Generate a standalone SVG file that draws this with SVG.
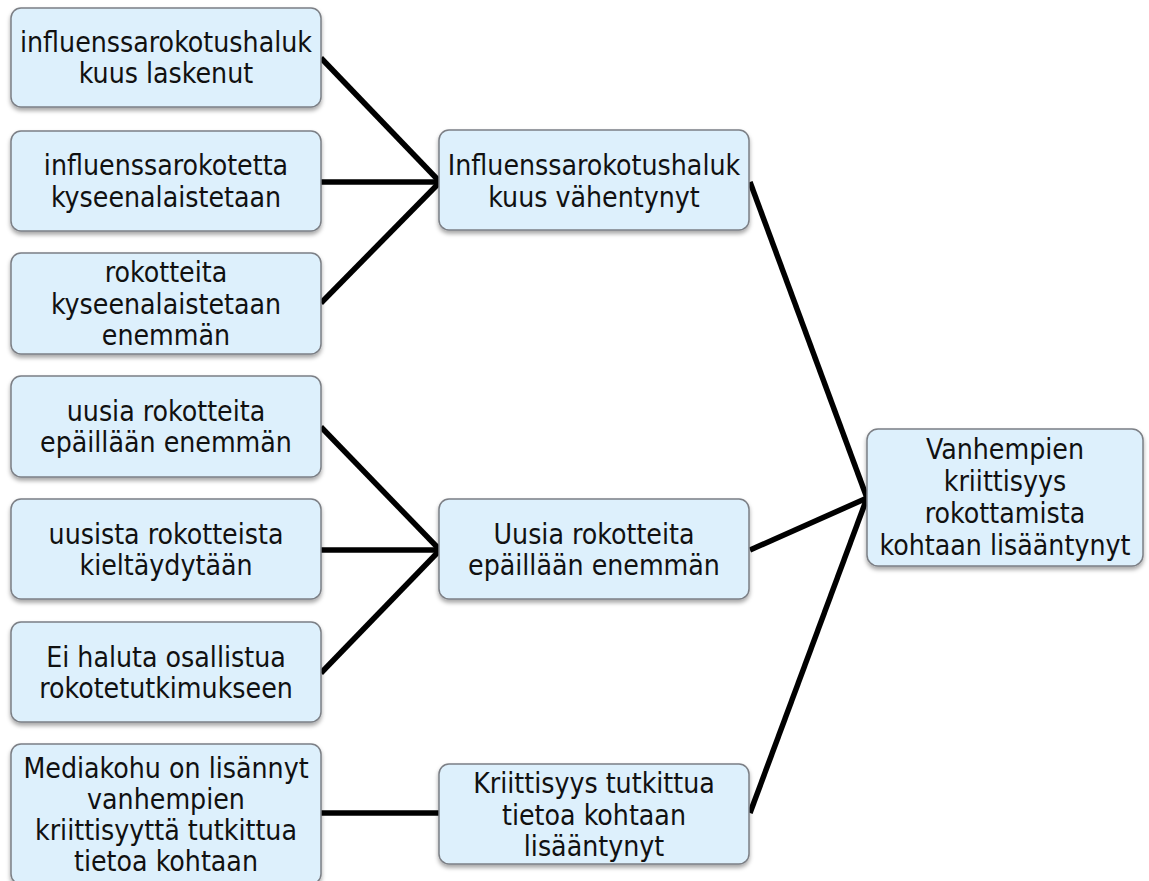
<svg xmlns="http://www.w3.org/2000/svg" width="1149" height="881" viewBox="0 0 1149 881">
<defs>
<filter id="sh" x="-10%" y="-10%" width="120%" height="130%">
<feDropShadow dx="0" dy="3" stdDeviation="2" flood-color="#000" flood-opacity="0.35"/>
</filter>
<style>
.box{fill:#ddf0fc;stroke:#7b7f85;stroke-width:1.5;filter:url(#sh)}
.t{font-family:"DejaVu Sans Condensed","DejaVu Sans",sans-serif;font-stretch:condensed;font-size:28.2px;fill:#111;text-anchor:middle}
.c{stroke:#000;stroke-width:5.5;fill:none;stroke-linecap:butt}
</style>
</defs>
<rect width="1149" height="881" fill="#fff"/>
<g id="connectors">
<line class="c" x1="321" y1="58" x2="440" y2="182"/>
<line class="c" x1="321" y1="182" x2="440" y2="182"/>
<line class="c" x1="321" y1="303" x2="440" y2="182"/>
<line class="c" x1="321" y1="427" x2="440" y2="550"/>
<line class="c" x1="321" y1="550" x2="440" y2="550"/>
<line class="c" x1="321" y1="673" x2="440" y2="550"/>
<line class="c" x1="321" y1="813" x2="440" y2="813"/>
<line class="c" x1="750" y1="182" x2="867" y2="498"/>
<line class="c" x1="750" y1="550" x2="867" y2="498"/>
<line class="c" x1="750" y1="813" x2="867" y2="498"/>
</g>
<g id="n1"><rect class="box" x="11" y="8" width="310" height="99" rx="10"/>
<text class="t" x="166" y="51.5">influenssarokotushaluk</text><text class="t" x="166" y="83">kuus laskenut</text></g>
<g id="n2"><rect class="box" x="11" y="131" width="310" height="100" rx="10"/>
<text class="t" x="166" y="175">influenssarokotetta</text><text class="t" x="166" y="206.5">kyseenalaistetaan</text></g>
<g id="n3"><rect class="box" x="11" y="253" width="310" height="101" rx="10"/>
<text class="t" x="166" y="282">rokotteita</text><text class="t" x="166" y="313.5">kyseenalaistetaan</text><text class="t" x="166" y="345">enemmän</text></g>
<g id="n4"><rect class="box" x="11" y="376" width="310" height="101" rx="10"/>
<text class="t" x="166" y="420.5">uusia rokotteita</text><text class="t" x="166" y="452">epäillään enemmän</text></g>
<g id="n5"><rect class="box" x="11" y="499" width="310" height="100" rx="10"/>
<text class="t" x="166" y="543.5">uusista rokotteista</text><text class="t" x="166" y="575">kieltäydytään</text></g>
<g id="n6"><rect class="box" x="11" y="622" width="310" height="100" rx="10"/>
<text class="t" x="166" y="666.5">Ei haluta osallistua</text><text class="t" x="166" y="698">rokotetutkimukseen</text></g>
<g id="n7"><rect class="box" x="11" y="744" width="310" height="140" rx="10"/>
<text class="t" x="166" y="777.5">Mediakohu on lisännyt</text><text class="t" x="166" y="808.5">vanhempien</text><text class="t" x="166" y="839.5">kriittisyyttä tutkittua</text><text class="t" x="166" y="870.5">tietoa kohtaan</text></g>
<g id="nA"><rect class="box" x="439" y="130" width="310" height="100" rx="10"/>
<text class="t" x="594" y="175">Influenssarokotushaluk</text><text class="t" x="594" y="206.5">kuus vähentynyt</text></g>
<g id="nB"><rect class="box" x="439" y="499" width="310" height="100" rx="10"/>
<text class="t" x="594" y="543.5">Uusia rokotteita</text><text class="t" x="594" y="575">epäillään enemmän</text></g>
<g id="nC"><rect class="box" x="439" y="764" width="310" height="100" rx="10"/>
<text class="t" x="594" y="793">Kriittisyys tutkittua</text><text class="t" x="594" y="824.5">tietoa kohtaan</text><text class="t" x="594" y="856">lisääntynyt</text></g>
<g id="nR"><rect class="box" x="867" y="429" width="276" height="137" rx="11"/>
<text class="t" x="1005" y="458.5">Vanhempien</text><text class="t" x="1005" y="490.5">kriittisyys</text><text class="t" x="1005" y="522.5">rokottamista</text><text class="t" x="1005" y="554.5">kohtaan lisääntynyt</text></g>
</svg>
